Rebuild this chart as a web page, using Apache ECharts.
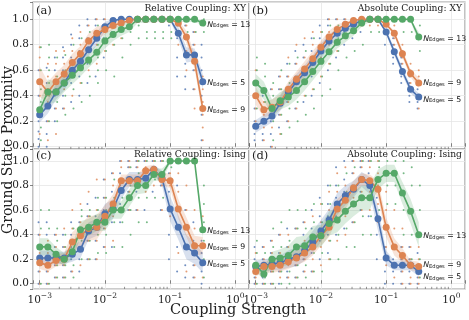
<!DOCTYPE html>
<html>
<head>
<meta charset="utf-8">
<script src="https://cdn.jsdelivr.net/npm/echarts@6/dist/echarts.min.js"></script>
<style>
html, body { margin: 0; padding: 0; background: #fff; }
#chart { width: 469px; height: 320px; }
</style>
</head>
<body>
<div id="chart"></div>
<script>
// coupling strengths (x), shared by every panel
const xs = [0.001, 0.001334, 0.001778, 0.002371, 0.003162, 0.004217, 0.005623, 0.007499, 0.01, 0.01334, 0.01778,
  0.02371, 0.03162, 0.04217, 0.05623, 0.07499, 0.1, 0.1334, 0.1778, 0.2371, 0.3162];
const minorTickXs = [0.002, 0.003, 0.004, 0.005, 0.006, 0.007, 0.008, 0.009, 0.02, 0.03, 0.04, 0.05, 0.06, 0.07, 0.08, 0.09,
  0.2, 0.3, 0.4, 0.5, 0.6, 0.7, 0.8, 0.9];

const edgeCounts = [5, 9, 13];
const panelTags = ['(a)', '(b)', '(c)', '(d)'];
const panelTitles = ['Relative Coupling: XY', 'Absolute Coupling: XY', 'Relative Coupling: Ising', 'Absolute Coupling: Ising'];

// (a) relative XY
const aBlue = [0.25,0.32,0.43,0.50,0.60,0.67,0.76,0.85,0.94,0.99,1.0,1.0,1.0,1.0,1.0,1.0,1.0,0.89,0.72,0.72,0.51];
const aOrange = [0.51,0.43,0.51,0.57,0.66,0.73,0.83,0.89,0.92,0.95,0.97,0.99,1.0,1.0,1.0,1.0,1.0,0.97,0.86,0.67,0.30];
const aGreen = [0.29,0.43,0.43,0.50,0.56,0.62,0.68,0.74,0.83,0.88,0.92,0.94,1.0,1.0,1.0,1.0,1.0,1.0,1.0,1.0,0.97];
// (b) absolute XY
const bBlue = [0.16,0.20,0.24,0.34,0.43,0.51,0.58,0.66,0.75,0.83,0.89,0.93,0.96,0.99,1.0,1.0,0.90,0.745,0.59,0.45,0.39];
const bOrange = [0.40,0.29,0.31,0.35,0.45,0.53,0.61,0.69,0.78,0.86,0.92,0.96,0.99,1.0,1.0,1.0,0.96,0.89,0.73,0.575,0.50];
const bGreen = [0.50,0.44,0.30,0.36,0.39,0.44,0.51,0.59,0.67,0.745,0.82,0.87,0.91,0.97,1.0,1.0,1.0,1.0,1.0,1.0,0.86];
// (c) relative Ising
const cBlue = [0.21,0.21,0.21,0.21,0.24,0.28,0.43,0.46,0.57,0.61,0.76,0.85,0.85,0.86,0.93,0.86,0.61,0.46,0.30,0.25,0.17];
const cOrange = [0.17,0.15,0.19,0.20,0.34,0.39,0.45,0.46,0.55,0.65,0.84,0.84,0.84,0.92,0.93,0.85,0.84,0.61,0.46,0.31,0.31];
const cGreen = [0.30,0.30,0.24,0.20,0.26,0.44,0.46,0.50,0.50,0.60,0.60,0.70,0.80,0.80,0.89,0.89,1.0,1.0,1.0,1.0,0.44];
// (d) absolute Ising
const dBlue = [0.14,0.15,0.16,0.17,0.20,0.22,0.27,0.34,0.43,0.52,0.65,0.72,0.77,0.85,0.80,0.53,0.21,0.15,0.15,0.15,0.10];
const dOrange = [0.10,0.14,0.14,0.15,0.18,0.21,0.25,0.30,0.39,0.46,0.61,0.68,0.78,0.85,0.84,0.77,0.46,0.30,0.23,0.15,0.14];
const dGreen = [0.15,0.08,0.20,0.21,0.23,0.30,0.31,0.38,0.39,0.49,0.52,0.59,0.65,0.70,0.70,0.85,0.90,0.90,0.74,0.59,0.40];

// half widths of the shaded bands
const aBlueErr = [0.06,0.06,0.06,0.06,0.06,0.06,0.05,0.05,0.04,0.02,0,0,0,0,0,0,0.01,0.05,0.06,0.05,0.06];
const aOrangeErr = [0.12,0.08,0.07,0.07,0.07,0.06,0.06,0.05,0.04,0.03,0.02,0.01,0,0,0,0,0,0.02,0.05,0.06,0.06];
const aGreenErr = [0.06,0.1,0.08,0.07,0.07,0.07,0.06,0.06,0.06,0.05,0.05,0.04,0.03,0.03,0.02,0.02,0.02,0.02,0.02,0.02,0.02];
const bBlueErr = [0.05,0.05,0.05,0.06,0.06,0.06,0.06,0.06,0.06,0.05,0.04,0.03,0.03,0.02,0,0,0.02,0.03,0.03,0.03,0.03];
const bOrangeErr = [0.07,0.06,0.06,0.06,0.06,0.06,0.06,0.06,0.05,0.05,0.04,0.02,0.01,0,0,0,0.01,0.02,0.03,0.03,0.04];
const bGreenErr = [0.07,0.07,0.07,0.07,0.07,0.07,0.07,0.07,0.07,0.06,0.05,0.05,0.04,0.03,0.02,0.01,0.01,0.01,0.01,0.02,0.04];
const cBlueErr = [0.06,0.06,0.05,0.05,0.06,0.07,0.07,0.07,0.08,0.08,0.07,0.06,0.06,0.05,0.04,0.06,0.1,0.1,0.1,0.09,0.08];
const cOrangeErr = [0.05,0.05,0.05,0.05,0.08,0.09,0.1,0.1,0.09,0.08,0.05,0.05,0.05,0.04,0.04,0.05,0.06,0.08,0.08,0.08,0.07];
const cGreenErr = [0.07,0.07,0.06,0.05,0.06,0.07,0.07,0.07,0.07,0.07,0.07,0.07,0.07,0.06,0.05,0.05,0.02,0,0,0,0.08];
const dBlueErr = [0.05,0.05,0.05,0.06,0.07,0.08,0.08,0.09,0.09,0.09,0.09,0.08,0.07,0.06,0.07,0.1,0.06,0.04,0.04,0.04,0.04];
const dOrangeErr = [0.04,0.05,0.05,0.05,0.06,0.06,0.07,0.07,0.08,0.08,0.08,0.07,0.06,0.05,0.05,0.07,0.08,0.07,0.06,0.04,0.04];
const dGreenErr = [0.05,0.05,0.06,0.07,0.08,0.08,0.08,0.09,0.09,0.1,0.1,0.1,0.1,0.1,0.1,0.08,0.07,0.07,0.09,0.1,0.1];

// single runs, one list per coupling value
const aBlueDots = [[0.0,0.06,0.12,0.2,0.3,0.4,0.5,0.6],[0.0,0.1,0.2,0.3,0.4,0.5,0.62],[0.2,0.3,0.4,0.5,0.6,0.7],[0.3,0.4,0.5,0.6,0.7,0.78],
  [0.35,0.5,0.6,0.7,0.8,0.88],[0.4,0.55,0.65,0.75,0.85,0.95],[0.5,0.65,0.75,0.85,0.95,1.0],[0.55,0.75,0.85,0.95,1.0],[0.7,0.85,0.95,1.0],
  [0.9,0.97,1.0],[1.0],[1.0],[1.0],[1.0],[1.0],[1.0],[0.95,1.0],[0.55,0.7,0.85,0.95,1.0],[0.45,0.55,0.65,0.75,0.85,0.95],
  [0.45,0.6,0.7,0.8,0.9],[0.05,0.25,0.4,0.5,0.6,0.7,0.8]];
const aOrangeDots = [[0.1,0.25,0.4,0.5,0.6,0.7,0.78],[0.05,0.2,0.35,0.45,0.55,0.65],[0.1,0.3,0.45,0.55,0.65,0.75],[0.3,0.45,0.55,0.65,0.75],
  [0.4,0.55,0.65,0.75,0.85],[0.5,0.6,0.7,0.8,0.9],[0.6,0.75,0.85,0.95],[0.65,0.8,0.9,1.0],[0.75,0.9,1.0],[0.8,0.95,1.0],[0.85,1.0],
  [0.95,1.0],[1.0],[1.0],[1.0],[1.0],[1.0],[0.8,0.95,1.0],[0.6,0.75,0.85,0.95,1.0],[0.3,0.45,0.6,0.7,0.8,0.9],[0.05,0.15,0.25,0.35,0.45,0.55]];
const aGreenDots = [[0.05,0.15,0.25,0.35,0.45,0.6,0.78],[0.2,0.3,0.4,0.5,0.6,0.7,0.8],[0.2,0.35,0.45,0.55,0.7],[0.25,0.4,0.5,0.6,0.72],
  [0.3,0.45,0.55,0.65,0.8],[0.35,0.5,0.6,0.7,0.85],[0.4,0.55,0.65,0.75,0.9],[0.5,0.6,0.7,0.8,0.95],[0.6,0.75,0.85,0.95],[0.55,0.8,0.9,1.0],
  [0.7,0.85,0.95,1.0],[0.8,0.9,1.0],[0.85,0.95,1.0],[0.85,0.9,1.0],[0.85,0.9,1.0],[0.85,0.9,1.0],[0.85,0.9,1.0],[0.9,1.0],[0.9,1.0],[0.9,1.0],[0.9,0.95,1.0]];

const bBlueDots = [[0.05,0.1,0.15,0.2,0.3],[0.05,0.1,0.2,0.3,0.4],[0.0,0.1,0.2,0.3,0.45],[0.15,0.25,0.35,0.45,0.55],[0.2,0.35,0.45,0.55,0.65],
  [0.3,0.45,0.55,0.65,0.75],[0.35,0.5,0.6,0.7,0.8],[0.4,0.55,0.65,0.75,0.85],[0.5,0.65,0.75,0.85,0.95],[0.6,0.75,0.85,0.95,1.0],
  [0.7,0.8,0.9,1.0],[0.8,0.9,1.0],[0.85,0.95,1.0],[0.9,1.0],[1.0],[1.0],[0.8,0.9,0.95],[0.65,0.7,0.75,0.8,0.85],[0.5,0.55,0.6,0.65,0.7],
  [0.35,0.4,0.45,0.5,0.55],[0.3,0.35,0.4,0.45]];
const bOrangeDots = [[0.2,0.3,0.4,0.5,0.6],[0.05,0.15,0.25,0.35,0.45],[0.0,0.15,0.3,0.45],[0.1,0.25,0.35,0.45,0.55],[0.2,0.35,0.45,0.55,0.7],
  [0.3,0.45,0.55,0.65,0.8],[0.4,0.5,0.6,0.7,0.85],[0.45,0.6,0.7,0.8,0.9],[0.55,0.7,0.8,0.9],[0.65,0.8,0.9,1.0],[0.75,0.9,1.0],
  [0.85,0.95,1.0],[0.95,1.0],[0.95,1.0],[0.95,1.0],[0.95,1.0],[0.9,0.95,1.0],[0.8,0.85,0.9,0.95],[0.6,0.65,0.7,0.75,0.8],
  [0.45,0.5,0.55,0.6,0.65],[0.3,0.4,0.5,0.55,0.6]];
const bGreenDots = [[0.3,0.4,0.5,0.6,0.7],[0.2,0.35,0.45,0.55,0.65],[0.05,0.2,0.3,0.4,0.5],[0.1,0.25,0.35,0.45,0.6],[0.15,0.3,0.4,0.5,0.65],
  [0.2,0.35,0.45,0.55,0.7],[0.25,0.4,0.5,0.6,0.75],[0.3,0.45,0.6,0.7,0.85],[0.4,0.55,0.65,0.75,0.9],[0.45,0.65,0.75,0.85,0.95],
  [0.6,0.75,0.85,0.95],[0.7,0.85,0.95],[0.75,0.9,1.0],[0.8,0.95,1.0],[0.9,1.0],[0.9,1.0],[0.9,1.0],[0.9,1.0],[0.9,1.0],[0.9,1.0],[0.75,0.85,0.95]];

const cBlueDots = [[0.0,0.1,0.2,0.3,0.4,0.5],[0.0,0.1,0.2,0.3,0.4,0.5],[0.05,0.15,0.2,0.3,0.4],[0.05,0.15,0.2,0.3,0.4],[0.1,0.2,0.3,0.4,0.5],
  [0.1,0.2,0.3,0.4,0.5],[0.2,0.35,0.45,0.55,0.65],[0.2,0.35,0.45,0.55,0.7],[0.3,0.45,0.6,0.7,0.85],[0.3,0.5,0.6,0.75,0.9],
  [0.5,0.65,0.8,0.9,1.0],[0.6,0.75,0.85,0.95,1.0],[0.6,0.75,0.85,0.95,1.0],[0.6,0.8,0.9,1.0],[0.75,0.9,1.0],[0.6,0.8,0.9,1.0],
  [0.2,0.4,0.6,0.75,0.9],[0.1,0.3,0.45,0.6,0.8],[0.05,0.15,0.3,0.45,0.6],[0.05,0.15,0.25,0.35,0.5],[0.0,0.1,0.15,0.25,0.35]];
const cOrangeDots = [[0.0,0.1,0.15,0.25,0.4],[0.0,0.1,0.15,0.25,0.35],[0.05,0.15,0.2,0.3,0.4],[0.05,0.15,0.2,0.3,0.45],[0.1,0.25,0.35,0.45,0.6],
  [0.15,0.3,0.4,0.5,0.65],[0.2,0.35,0.45,0.55,0.75],[0.2,0.35,0.45,0.6,0.85],[0.3,0.45,0.55,0.7,0.85],[0.35,0.55,0.65,0.8,0.9],
  [0.6,0.75,0.85,0.95,1.0],[0.6,0.75,0.85,0.95,1.0],[0.6,0.8,0.85,0.95,1.0],[0.75,0.9,0.95,1.0],[0.8,0.9,1.0],[0.6,0.8,0.9,1.0],
  [0.55,0.8,0.9,1.0],[0.25,0.45,0.6,0.75,0.9],[0.1,0.3,0.45,0.6,0.8],[0.05,0.15,0.3,0.45,0.6],[0.05,0.15,0.3,0.45,0.55]];
const cGreenDots = [[0.0,0.15,0.3,0.45,0.6],[0.0,0.15,0.3,0.45,0.6],[0.05,0.15,0.25,0.35,0.45],[0.05,0.15,0.2,0.3,0.4],[0.05,0.15,0.25,0.35,0.45],
  [0.2,0.35,0.45,0.55,0.6],[0.2,0.35,0.45,0.55,0.6],[0.25,0.4,0.5,0.6,0.7],[0.25,0.4,0.5,0.6,0.7],[0.3,0.5,0.6,0.7,0.85],
  [0.3,0.5,0.6,0.7,0.85],[0.4,0.6,0.7,0.8,0.95],[0.5,0.7,0.8,0.9,1.0],[0.5,0.7,0.8,0.9,1.0],[0.7,0.85,0.9,1.0],[0.7,0.85,0.9,1.0],
  [0.95,1.0],[1.0],[1.0],[1.0],[0.05,0.2,0.35,0.5,0.65,0.8]];

const dBlueDots = [[0.0,0.05,0.1,0.2,0.3],[0.0,0.05,0.1,0.2,0.3],[0.0,0.1,0.15,0.25,0.35],[0.0,0.1,0.15,0.25,0.4],[0.05,0.1,0.2,0.3,0.45],
  [0.05,0.15,0.2,0.3,0.45],[0.1,0.2,0.3,0.4,0.5],[0.1,0.25,0.35,0.45,0.6],[0.2,0.35,0.45,0.55,0.7],[0.25,0.4,0.55,0.65,0.8],
  [0.4,0.55,0.7,0.8,0.95],[0.45,0.6,0.75,0.85,1.0],[0.5,0.65,0.8,0.9,1.0],[0.6,0.75,0.85,0.95,1.0],[0.55,0.7,0.8,0.9,1.0],
  [0.2,0.4,0.55,0.7,0.85],[0.0,0.1,0.2,0.3,0.45],[0.0,0.1,0.15,0.2,0.3],[0.0,0.1,0.15,0.2,0.3],[0.0,0.1,0.15,0.2,0.3],[0.0,0.05,0.1,0.15,0.25]];
const dOrangeDots = [[0.0,0.05,0.1,0.15,0.25],[0.0,0.1,0.15,0.2,0.3],[0.0,0.1,0.15,0.25,0.35],[0.05,0.1,0.15,0.25,0.4],[0.05,0.15,0.2,0.3,0.4],
  [0.05,0.15,0.2,0.3,0.45],[0.1,0.2,0.25,0.35,0.5],[0.1,0.2,0.3,0.4,0.55],[0.15,0.3,0.4,0.5,0.65],[0.2,0.35,0.45,0.6,0.75],
  [0.35,0.5,0.6,0.75,0.9],[0.4,0.55,0.7,0.8,0.95],[0.5,0.7,0.8,0.9,1.0],[0.6,0.75,0.85,0.95,1.0],[0.6,0.75,0.85,0.95,1.0],
  [0.5,0.65,0.8,0.9,1.0],[0.15,0.3,0.45,0.6,0.75],[0.05,0.15,0.3,0.45,0.6],[0.0,0.1,0.2,0.3,0.45],[0.0,0.05,0.15,0.2,0.3],[0.0,0.05,0.15,0.2,0.3]];
const dGreenDots = [[0.0,0.1,0.15,0.25,0.35],[0.0,0.05,0.1,0.15,0.25],[0.0,0.1,0.2,0.3,0.45],[0.0,0.1,0.2,0.3,0.5],[0.0,0.1,0.2,0.35,0.6],
  [0.05,0.15,0.3,0.45,0.6],[0.05,0.15,0.3,0.45,0.6],[0.1,0.25,0.4,0.5,0.65],[0.1,0.25,0.4,0.5,0.65],[0.2,0.35,0.5,0.65,0.8],
  [0.2,0.4,0.5,0.65,0.8],[0.3,0.45,0.6,0.75,0.9],[0.3,0.5,0.65,0.8,0.95],[0.4,0.55,0.7,0.85,1.0],[0.4,0.55,0.7,0.85,1.0],
  [0.6,0.75,0.85,0.95,1.0],[0.65,0.8,0.9,1.0],[0.65,0.8,0.9,1.0],[0.4,0.6,0.75,0.9,1.0],[0.2,0.4,0.6,0.8,0.95],[0.05,0.2,0.4,0.6,0.8]];

const panelMeans = [[aBlue, aOrange, aGreen], [bBlue, bOrange, bGreen], [cBlue, cOrange, cGreen], [dBlue, dOrange, dGreen]];
const panelErrs = [[aBlueErr, aOrangeErr, aGreenErr], [bBlueErr, bOrangeErr, bGreenErr], [cBlueErr, cOrangeErr, cGreenErr], [dBlueErr, dOrangeErr, dGreenErr]];
const panelDots = [[aBlueDots, aOrangeDots, aGreenDots], [bBlueDots, bOrangeDots, bGreenDots], [cBlueDots, cOrangeDots, cGreenDots], [dBlueDots, dOrangeDots, dGreenDots]];

const colors = ['#4c72b0', '#dd8452', '#55a868'];
const labelDy = [[0, 0, 0], [1, -1, 0], [0, 0, 0], [4, -3, 0]];
const rowYMin = [-0.018, -0.043];
const rowYMax = [1.135, 1.098];
const xMin = 0.000789, xMax = 1.62;
const serif = 'DejaVu Serif';

const grids = [
  {left: 33, top: 2, width: 216, height: 147},
  {left: 249, top: 2, width: 216, height: 147},
  {left: 33, top: 149, width: 216, height: 140},
  {left: 249, top: 149, width: 216, height: 140}
];

function xLabel(v) {
  const l = Math.log10(v), e = Math.round(l);
  if (Math.abs(l - e) > 1e-3) return '';
  return '{b|10}{s|' + (e < 0 ? '\u2212' + (-e) : e) + '}';
}
function yLabel(v) {
  const r = Math.round(v * 5) / 5;
  if (Math.abs(v - r) > 1e-6 || v < -1e-6) return '';
  return r.toFixed(1);
}

let chart = echarts.init(document.getElementById('chart'));
let series = [];
for (let p = 0; p < 4; p++) {
  const row = p < 2 ? 0 : 1;
  // scattered single runs
  for (let k = 0; k < 3; k++) {
    const shift = Math.pow(10, (k - 1) * 0.018);
    const pts = [];
    panelDots[p][k].forEach((col, i) => col.forEach(v => pts.push([xs[i] * shift, v])));
    series.push({
      type: 'scatter', xAxisIndex: p, yAxisIndex: p, data: pts, symbolSize: 2,
      itemStyle: {color: colors[k], opacity: 0.8}, z: 1, silent: true
    });
  }
  // shaded bands
  for (let k = 0; k < 3; k++) {
    const m = panelMeans[p][k], e = panelErrs[p][k];
    series.push({
      type: 'custom', xAxisIndex: p, yAxisIndex: p, data: [[xs[0], m[0]]], z: 2, silent: true,
      renderItem: function (params, api) {
        const top = [], bot = [];
        for (let i = 0; i < xs.length; i++) {
          top.push(api.coord([xs[i], Math.min(1, m[i] + e[i])]));
          bot.unshift(api.coord([xs[i], Math.max(0, m[i] - e[i])]));
        }
        return {type: 'polygon', shape: {points: top.concat(bot)}, style: {fill: colors[k], opacity: 0.22}};
      }
    });
  }
  // mean lines
  for (let k = 0; k < 3; k++) {
    const m = panelMeans[p][k];
    series.push({
      type: 'line', xAxisIndex: p, yAxisIndex: p, z: 3,
      symbol: 'circle', symbolSize: 7,
      lineStyle: {width: 1.6, color: colors[k]},
      itemStyle: {color: colors[k]},
      data: xs.map((x, i) => i < xs.length - 1 ? [x, m[i]] : {
        value: [x, m[i]],
        label: {
          show: true, position: 'right', distance: 1, offset: [0, labelDy[p][k]],
          formatter: '{n|N}{s|Edges}{t| = ' + edgeCounts[k] + '}',
          rich: {
            n: {fontFamily: 'DejaVu Sans', fontStyle: 'italic', fontSize: 7.8, color: '#111', lineHeight: 11, verticalAlign: 'bottom'},
            s: {fontFamily: 'DejaVu Sans', fontSize: 5.2, color: '#111', lineHeight: 9, verticalAlign: 'bottom'},
            t: {fontFamily: 'DejaVu Sans', fontSize: 7.8, color: '#111', lineHeight: 11, verticalAlign: 'bottom'}
          }
        }
      })
    });
  }
  // minor log ticks along the bottom
  series.push({
    type: 'custom', xAxisIndex: p, yAxisIndex: p, z: 4, silent: true,
    data: minorTickXs.map(x => [x, rowYMin[row]]),
    renderItem: function (params, api) {
      const c = api.coord([api.value(0), api.value(1)]);
      return {type: 'line', shape: {x1: c[0], y1: c[1], x2: c[0], y2: c[1] - 2.2}, style: {stroke: '#777', lineWidth: 0.8}};
    }
  });
}

let titles = [];
for (let p = 0; p < 4; p++) {
  const row = p < 2 ? 0 : 1;
  titles.push({
    text: panelTags[p], left: grids[p].left + 3, top: row === 0 ? 5 : 150, padding: 0,
    textStyle: {fontFamily: serif, fontSize: 11.5, fontWeight: 'normal', color: '#222'}
  });
  titles.push({
    text: panelTitles[p], right: 469 - (grids[p].left + grids[p].width - 3), top: row === 0 ? 4 : 150, padding: 0,
    textStyle: {fontFamily: serif, fontSize: 9.2, fontWeight: 'normal', color: '#222'}
  });
}

let option = {
  animation: false,
  textStyle: {fontFamily: serif},
  title: titles,
  grid: grids.map(g => Object.assign({show: true, borderColor: '#9a9a9a', borderWidth: 1.2}, g)),
  xAxis: grids.map((g, p) => ({
    type: 'log', logBase: 10, gridIndex: p, min: xMin, max: xMax,
    axisLine: {show: false},
    axisTick: {show: true, inside: true, length: 3.5, lineStyle: {color: '#666', width: 0.8}},
    axisLabel: {
      show: p >= 2, formatter: xLabel, margin: 3, color: '#222',
      rich: {
        b: {fontFamily: serif, fontSize: 10.5, color: '#222', lineHeight: 14, verticalAlign: 'bottom'},
        s: {fontFamily: serif, fontSize: 7.5, color: '#222', lineHeight: 14, verticalAlign: 'top'}
      }
    },
    splitLine: {show: true, lineStyle: {color: '#e6e6e6', width: 0.8}}
  })),
  yAxis: grids.map((g, p) => ({
    type: 'value', gridIndex: p, min: rowYMin[p < 2 ? 0 : 1], max: rowYMax[p < 2 ? 0 : 1], splitNumber: 5,
    axisLine: {show: false},
    axisTick: {show: p % 2 === 0, length: 3, lineStyle: {color: '#666', width: 0.8}},
    axisLabel: {show: p % 2 === 0, formatter: yLabel, fontFamily: serif, fontSize: 10.5, margin: 4, color: '#222'},
    splitLine: {show: true, lineStyle: {color: '#e6e6e6', width: 0.8}}
  })),
  graphic: [
    {type: 'text', x: 8, y: 150, rotation: Math.PI / 2,
      style: {text: 'Ground State Proximity', fontFamily: serif, fontSize: 14, fill: '#222', textAlign: 'center', textVerticalAlign: 'middle'}},
    {type: 'text', x: 238, y: 310,
      style: {text: 'Coupling Strength', fontFamily: serif, fontSize: 14.5, fill: '#222', textAlign: 'center', textVerticalAlign: 'middle'}}
  ],
  series: series
};
chart.setOption(option);
</script>
</body>
</html>
